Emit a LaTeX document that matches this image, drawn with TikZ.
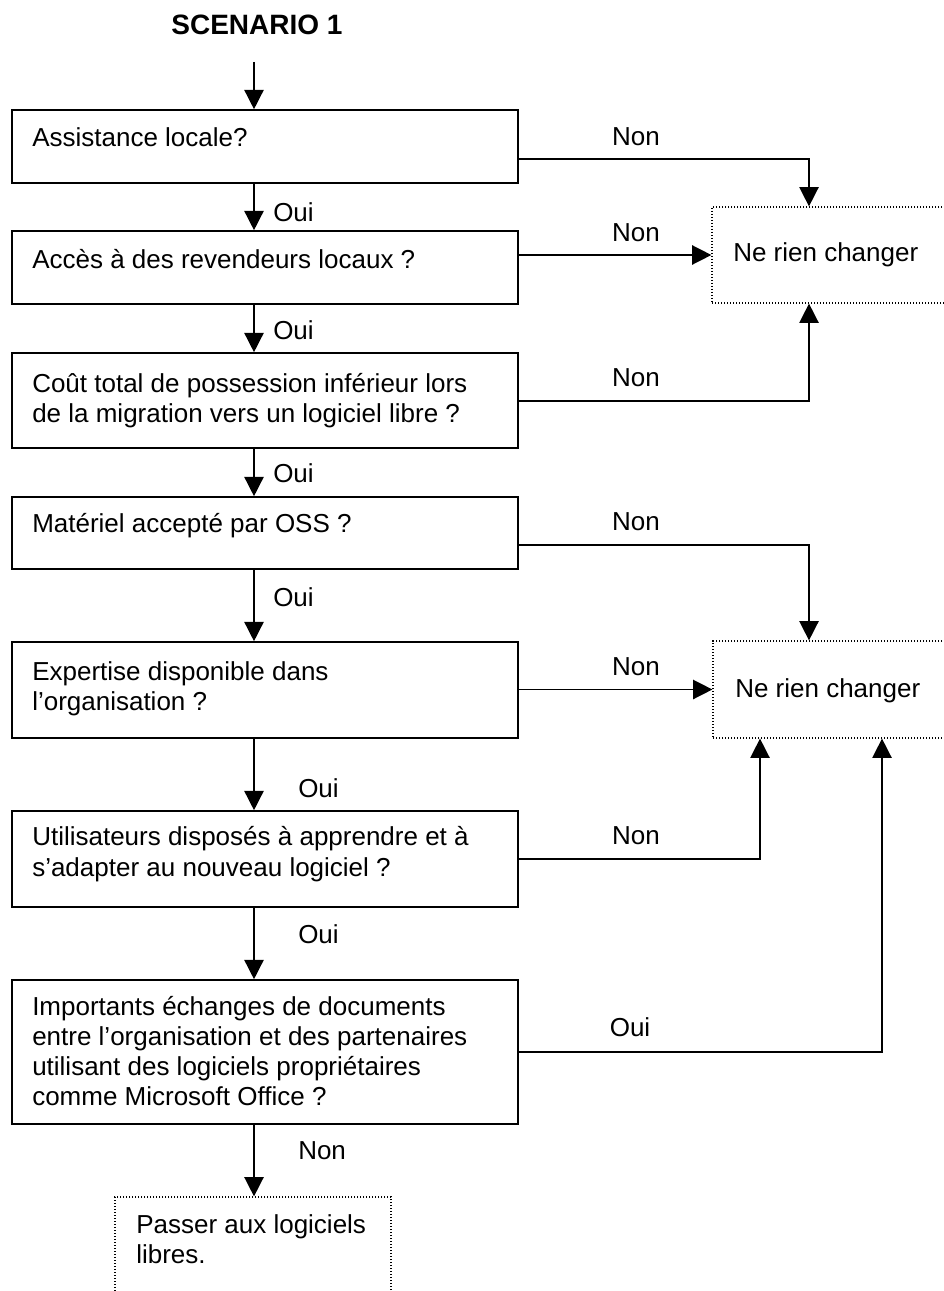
\documentclass[tikz,border=0pt]{standalone}
\usepackage{fontspec}
\setmainfont{Liberation Sans}
\usetikzlibrary{arrows.meta,fit}
\newcommand{\bodyfont}{\fontsize{19.5pt}{22.5pt}\selectfont}
\begin{document}
\begin{tikzpicture}[x=0.75pt,y=-0.75pt,
  box/.style={draw, line width=1.2pt, inner sep=0pt},
  dbox/.style={draw, line width=0.9pt, dash pattern=on 0.9pt off 1.35pt, inner sep=0pt},
  txt/.style={anchor=base west, inner sep=0pt, font=\bodyfont},
  lbl/.style={inner sep=0pt, font=\bodyfont},
  arr/.style={line width=1.1pt, -{Triangle[width=14.5pt,length=14.5pt]}}
]
\fill[white] (0,0) rectangle (944,1291);
\useasboundingbox (0,0) rectangle (944,1291);

% helper coordinates
\coordinate (start) at (254,62);
\coordinate (cA) at (809,0);
\coordinate (cB) at (760,0);
\coordinate (cC) at (882,0);
\coordinate (y159) at (0,159);
\coordinate (y401) at (0,401);
\coordinate (y545) at (0,545);
\coordinate (y859) at (0,859);
\coordinate (y1052) at (0,1052);

% title
\node[inner sep=0pt, font=\fontsize{21pt}{24pt}\selectfont\bfseries] (title) at (257,25) {SCENARIO 1};

% main boxes
\node[box, fit={(12,110) (518,183)}] (b1) {};
\node[box, fit={(12,231) (518,304)}] (b2) {};
\node[box, fit={(12,353) (518,448)}] (b3) {};
\node[box, fit={(12,497) (518,569)}] (b4) {};
\node[box, fit={(12,642) (518,738)}] (b5) {};
\node[box, fit={(12,811) (518,907)}] (b6) {};
\node[box, fit={(12,980) (518,1124)}] (b7) {};

\node[txt] (t1) at (32,147) {Assistance locale?};
\node[txt] (t2) at (32,268) {Accès à des revendeurs locaux ?};
\node[txt] (t3) at (32,392) {\parbox[t]{370pt}{Coût total de possession inférieur lors\\de la migration vers un logiciel libre ?}};
\node[txt] (t4) at (32,532) {Matériel accepté par OSS ?};
\node[txt] (t5) at (32,680) {\parbox[t]{370pt}{Expertise disponible dans\\l’organisation ?}};
\node[txt] (t6) at (32,845) {\parbox[t]{370pt}{\fontsize{19.5pt}{23.25pt}\selectfont Utilisateurs disposés à apprendre et à\\s’adapter au nouveau logiciel ?}};
\node[txt] (t7) at (32,1015) {\parbox[t]{370pt}{Importants échanges de documents\\entre l’organisation et des partenaires\\utilisant des logiciels propriétaires\\comme Microsoft Office ?}};

% outcome boxes
\node[dbox, fit={(712,207) (980,303)}] (n1) {};
\node[dbox, fit={(713,641) (980,738)}] (n2) {};
\node[dbox, fit={(115,1197) (391,1320)}] (n3) {};
\node[txt] (u1) at (733,262) {Ne rien changer};
\node[txt] (u2) at (735,697) {Ne rien changer};
\node[txt] (u3) at (136,1233) {\parbox[t]{220pt}{Passer aux logiciels\\libres.}};

% vertical flow
\draw[arr] (start) -- (b1.north -| start);
\draw[arr] (b1.south -| start) -- (b2.north -| start);
\draw[arr] (b2.south -| start) -- (b3.north -| start);
\draw[arr] (b3.south -| start) -- (b4.north -| start);
\draw[arr] (b4.south -| start) -- (b5.north -| start);
\draw[arr] (b5.south -| start) -- (b6.north -| start);
\draw[arr] (b6.south -| start) -- (b7.north -| start);
\draw[arr] (b7.south -| start) -- (n3.north -| start);

% side branches
\draw[arr] (b1.east |- y159) -| (n1.north -| cA);
\draw[arr] (b2.east |- n1.west) -- (n1.west);
\draw[arr] (b3.east |- y401) -| (n1.south -| cA);
\draw[arr] (b4.east |- y545) -| (n2.north -| cA);
\draw[arr] (b5.east |- n2.west) -- (n2.west);
\draw[arr] (b6.east |- y859) -| (n2.south -| cB);
\draw[arr] (b7.east |- y1052) -| (n2.south -| cC);

% labels on vertical arrows
\node[lbl, anchor=west] (o1) at (273,212) {Oui};
\node[lbl, anchor=west] (o2) at (273,330) {Oui};
\node[lbl, anchor=west] (o3) at (273,473) {Oui};
\node[lbl, anchor=west] (o4) at (273,597) {Oui};
\node[lbl, anchor=west] (o5) at (298,788) {Oui};
\node[lbl, anchor=west] (o6) at (298,934) {Oui};
\node[lbl, anchor=west] (o7) at (298,1151) {Non};

% labels on side arrows
\node[lbl] (r1) at (636,137) {Non};
\node[lbl] (r2) at (636,233) {Non};
\node[lbl] (r3) at (636,378) {Non};
\node[lbl] (r4) at (636,522) {Non};
\node[lbl] (r5) at (636,667) {Non};
\node[lbl] (r6) at (636,836) {Non};
\node[lbl] (r7) at (630,1027) {Oui};
\end{tikzpicture}
\end{document}
